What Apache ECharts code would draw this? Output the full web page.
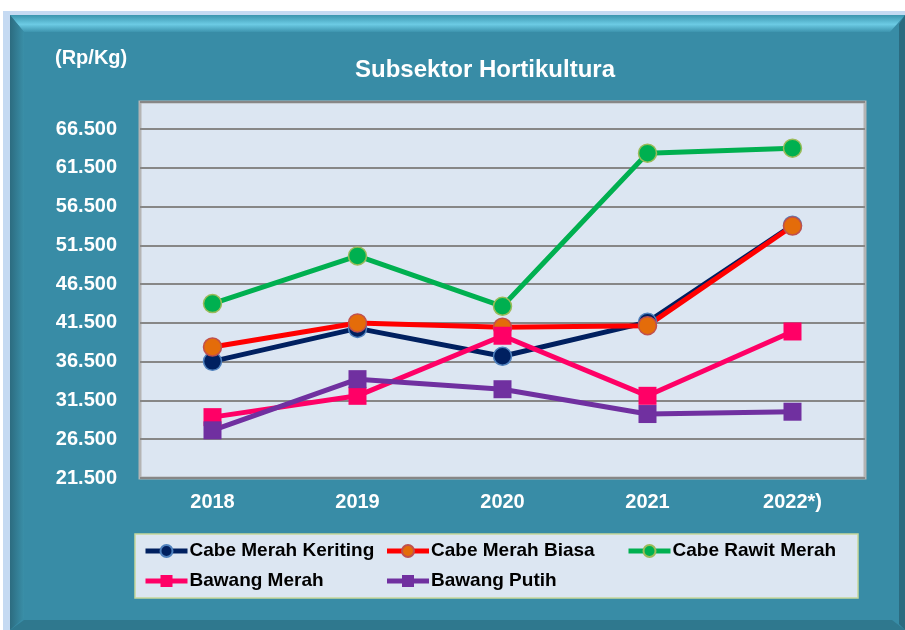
<!DOCTYPE html>
<html>
<head>
<meta charset="utf-8">
<script src="https://cdn.jsdelivr.net/npm/echarts@6/dist/echarts.min.js"></script>
<style>
  html, body { margin: 0; padding: 0; background: #ffffff; }
  #main { width: 905px; height: 630px; }
</style>
</head>
<body>
<div id="main"></div>
<script>
// data (Rp/Kg)
var years = ['2018', '2019', '2020', '2021', '2022*)'];
var cabeMerahKeriting = [36550, 40800, 37200, 41600, 54100];
var cabeMerahBiasa = [38400, 41500, 40950, 41150, 54000];
var cabeRawitMerah = [44000, 50150, 43650, 63400, 64050];
var bawangMerah = [29350, 32100, 39850, 32100, 40400];
var bawangPutih = [27650, 34250, 32950, 29750, 30050];

var yTickMin = 21500;
var yTickMax = 70000;
var yTickStep = 5000;

var font = 'Liberation Sans, Arial, sans-serif';

function fmt(v) {
    // 66500 -> "66.500"
    return (v / 1000).toFixed(3);
}

function lineSeries(name, data, color, markerColor, borderColor, symbol) {
    return {
        name: name,
        type: 'line',
        data: data,
        symbol: symbol,
        symbolSize: 18,
        lineStyle: { color: color, width: 5 },
        itemStyle: {
            color: markerColor,
            borderColor: borderColor,
            borderWidth: borderColor ? 1.5 : 0
        },
        emphasis: { disabled: true },
        animation: false
    };
}

var chart = echarts.init(document.getElementById('main'), null, { renderer: 'canvas' });

chart.setOption({
    backgroundColor: '#ffffff',
    graphic: [
        // light blue outer edge
        { type: 'rect', z: -10, shape: { x: 3, y: 11, width: 902, height: 619 }, style: { fill: '#c5daf2' } },
        // teal panel
        { type: 'rect', z: -9, shape: { x: 10, y: 15, width: 895, height: 615 }, style: { fill: '#388ca6' } },
        // top bevel
        { type: 'polygon', z: -8, shape: { points: [[10, 15], [905, 15], [890, 32], [24, 32]] },
          style: { fill: new echarts.graphic.LinearGradient(0, 0, 0, 1, [
              { offset: 0, color: '#3b95ae' }, { offset: 0.55, color: '#6ccbe4' }, { offset: 1, color: '#3d94ae' }]) } },
        // left bevel
        { type: 'polygon', z: -8, shape: { points: [[10, 15], [24, 32], [24, 618], [10, 630]] },
          style: { fill: new echarts.graphic.LinearGradient(0, 0, 1, 0, [
              { offset: 0, color: '#2c6c80' }, { offset: 1, color: '#3a8fa8' }]) } },
        // bottom bevel
        { type: 'polygon', z: -8, shape: { points: [[10, 630], [24, 620], [892, 620], [905, 630]] },
          style: { fill: '#2f788e' } },
        // right bevel
        { type: 'polygon', z: -8, shape: { points: [[905, 15], [899, 24], [899, 624], [905, 630]] },
          style: { fill: '#2b6b80' } },
        // legend box
        { type: 'rect', z: -5, shape: { x: 135, y: 534, width: 723, height: 64 },
          style: { fill: '#dce6f2', stroke: '#c6d89c', lineWidth: 1.5 } },
        // unit label
        { type: 'text', z: 5, left: 55, top: 48,
          style: { text: '(Rp/Kg)', fill: '#ffffff', font: 'bold 20px ' + font } }
    ],
    title: {
        text: 'Subsektor Hortikultura',
        left: 355,
        top: 58,
        padding: 0,
        textStyle: { color: '#ffffff', fontFamily: font, fontWeight: 'bold', fontSize: 24 }
    },
    legend: {
        left: 143,
        top: 536,
        width: 730,
        padding: 0,
        itemGap: 0,
        itemWidth: 42,
        itemHeight: 15,
        selectedMode: false,
        lineStyle: { width: 5 },
        textStyle: {
            color: '#000000',
            fontFamily: font,
            fontWeight: 'bold',
            fontSize: 19,
            width: 195,
            lineHeight: 30,
            padding: [0, 0, 0, -3]
        },
        data: ['Cabe Merah Keriting', 'Cabe Merah Biasa', 'Cabe Rawit Merah', 'Bawang Merah', 'Bawang Putih']
    },
    grid: {
        left: 140,
        right: 40,
        top: 102,
        bottom: 152,
        show: true,
        backgroundColor: '#dce6f2',
        borderColor: '#b4b4b4',
        borderWidth: 3,
        containLabel: false
    },
    xAxis: {
        type: 'category',
        data: years,
        boundaryGap: true,
        axisLine: { show: false },
        axisTick: { show: false },
        axisLabel: {
            color: '#ffffff',
            fontFamily: font,
            fontWeight: 'bold',
            fontSize: 20,
            margin: 14
        }
    },
    yAxis: {
        type: 'value',
        min: yTickMin,
        max: yTickMax,
        interval: yTickStep,
        axisLine: { show: false },
        axisTick: { show: false },
        splitLine: { lineStyle: { color: '#878787', width: 2 } },
        axisLabel: {
            color: '#ffffff',
            fontFamily: font,
            fontWeight: 'bold',
            fontSize: 20,
            margin: 23,
            showMaxLabel: false,
            formatter: fmt
        }
    },
    series: [
        lineSeries('Cabe Merah Keriting', cabeMerahKeriting, '#002060', '#002060', '#4f81bd', 'circle'),
        lineSeries('Cabe Merah Biasa', cabeMerahBiasa, '#ff0000', '#e46c0a', '#c0504d', 'circle'),
        lineSeries('Cabe Rawit Merah', cabeRawitMerah, '#00b050', '#00b050', '#9bbb59', 'circle'),
        lineSeries('Bawang Merah', bawangMerah, '#ff0066', '#ff0066', null, 'rect'),
        lineSeries('Bawang Putih', bawangPutih, '#7030a0', '#7030a0', null, 'rect')
    ]
});
</script>
</body>
</html>
